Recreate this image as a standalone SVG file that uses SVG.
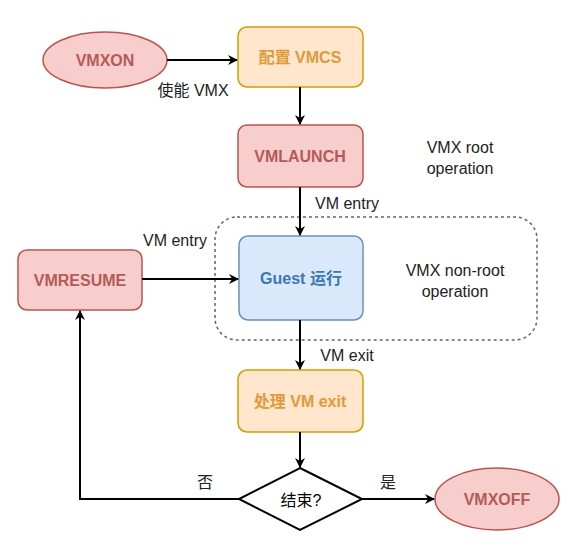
<svg xmlns="http://www.w3.org/2000/svg" width="581" height="548" viewBox="0 0 581 548">
<defs>
<marker id="ah" viewBox="0 0 10 10" refX="9" refY="5" markerWidth="10" markerHeight="10" markerUnits="userSpaceOnUse" orient="auto">
<path d="M0,0 L10,5 L0,10 L3,5 Z" fill="#000"/>
</marker>
<style>
text{font-family:"Liberation Sans","Noto Sans CJK SC",sans-serif;font-size:16px;text-anchor:middle;dominant-baseline:central}
.b{font-weight:bold;font-size:16px}
.pink{fill:#f8cecc;stroke:#b85450;stroke-width:1.5}
.orange{fill:#ffe6cc;stroke:#d79b00;stroke-width:1.5}
.blue{fill:#dae8fc;stroke:#6c8ebf;stroke-width:1.5}
.tp{fill:#b45a58}
.to{fill:#e09a3a}
.tb{fill:#3d78b0}
.lbl{fill:#222;font-size:16px}
.edge{fill:none;stroke:#000;stroke-width:2;marker-end:url(#ah)}
</style>
</defs>
<rect width="581" height="548" fill="#fff"/>
<g id="nonroot-region">
<rect x="215" y="217" width="322" height="123" rx="22" fill="none" stroke="#666" stroke-width="1.5" stroke-dasharray="3,3"/>
<text x="455" y="270" class="lbl">VMX non-root</text>
<text x="455" y="291" class="lbl">operation</text>
</g>
<g id="root-label">
<text x="460" y="147" class="lbl">VMX root</text>
<text x="460" y="168" class="lbl">operation</text>
</g>
<g id="vmxon">
<ellipse cx="105" cy="60" rx="62" ry="28" class="pink"/>
<text x="105" y="60" class="b tp">VMXON</text>
</g>
<g id="vmcs">
<rect x="238" y="27" width="125" height="60" rx="9" class="orange"/>
<text x="300" y="57" class="b to">配置 VMCS</text>
</g>
<g id="vmlaunch">
<rect x="238" y="125" width="125" height="62" rx="9" class="pink"/>
<text x="300" y="156" class="b tp">VMLAUNCH</text>
</g>
<g id="guest">
<rect x="239" y="236" width="124" height="84" rx="9" class="blue"/>
<text x="301" y="278" class="b tb">Guest 运行</text>
</g>
<g id="vmresume">
<rect x="18" y="250" width="124" height="60" rx="9" class="pink"/>
<text x="80" y="280" class="b tp">VMRESUME</text>
</g>
<g id="handle-exit">
<rect x="238" y="370" width="125" height="62" rx="9" class="orange"/>
<text x="300" y="401" class="b to">处理 VM exit</text>
</g>
<g id="decision">
<polygon points="300,468 362,499 300,530 239,499" fill="#fff" stroke="#000" stroke-width="2"/>
<text x="301" y="500" class="lbl" style="fill:#000">结束?</text>
</g>
<g id="vmxoff">
<ellipse cx="497" cy="499" rx="62" ry="31" class="pink"/>
<text x="497" y="499" class="b tp">VMXOFF</text>
</g>
<g id="connectors">
<path d="M167,60 L237,60" class="edge"/>
<text x="193" y="90" class="lbl">使能 VMX</text>
<path d="M300,87 L300,124" class="edge"/>
<path d="M300,187 L300,235" class="edge"/>
<text x="347" y="203" class="lbl">VM entry</text>
<path d="M142,279 L238,279" class="edge"/>
<text x="175" y="240" class="lbl">VM entry</text>
<path d="M300,320 L300,369" class="edge"/>
<text x="347" y="355" class="lbl">VM exit</text>
<path d="M300,432 L300,467" class="edge"/>
<path d="M362,499 L434,499" class="edge"/>
<text x="388" y="482" class="lbl">是</text>
<path d="M239,499 L80,499 L80,311" class="edge"/>
<text x="205" y="482" class="lbl">否</text>
</g>
</svg>
